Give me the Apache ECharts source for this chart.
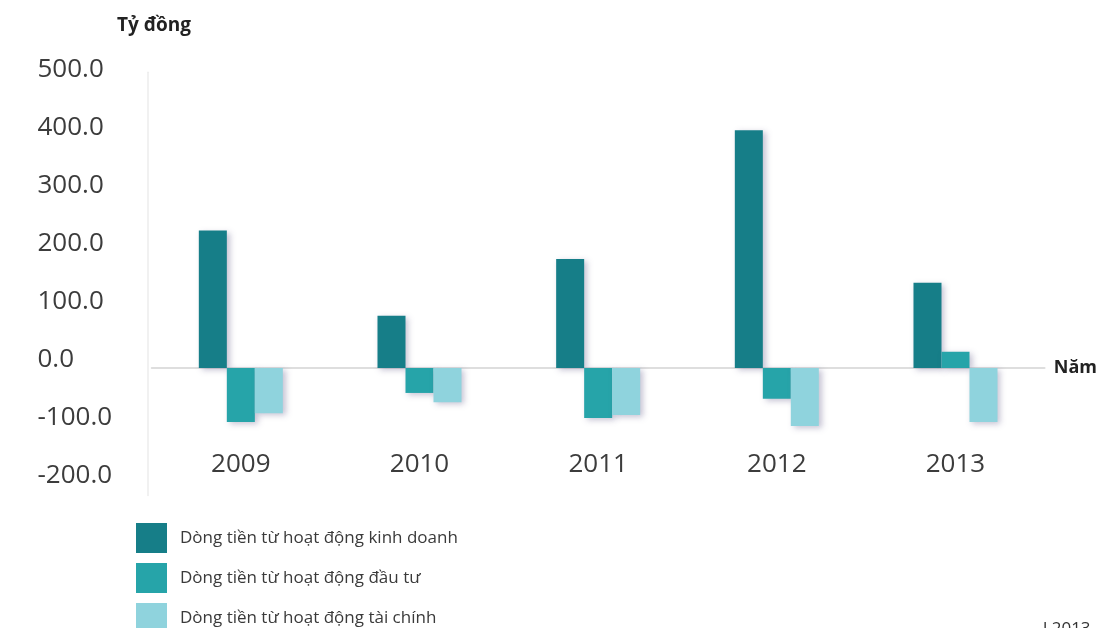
<!DOCTYPE html>
<html>
<head>
<meta charset="utf-8">
<script src="https://cdn.jsdelivr.net/npm/echarts@6/dist/echarts.min.js"></script>
<style>
  html, body { margin: 0; padding: 0; background: #ffffff; }
  #chart { width: 1100px; height: 628px; }
</style>
</head>
<body>
<div id="chart"></div>
<script>
// Cash flows by activity, billion VND
const years = ['2009', '2010', '2011', '2012', '2013'];
const operating = [237, 90, 188, 410, 147];
const investing = [-93, -43, -86, -53, 28];
const financing = [-78, -59, -81, -100, -93];
const seriesNames = [
  'Dòng tiền từ hoạt động kinh doanh',
  'Dòng tiền từ hoạt động đầu tư',
  'Dòng tiền từ hoạt động tài chính'
];
const seriesColors = ['#167e88', '#26a4a9', '#8fd3dd'];

const chart = echarts.init(document.getElementById('chart'), null, { renderer: 'canvas' });

const font = '"Open Sans", "Noto Sans", sans-serif';
const barShadow = {
  shadowColor: 'rgba(90, 80, 130, 0.35)',
  shadowBlur: 6,
  shadowOffsetX: 3,
  shadowOffsetY: 2
};

function barSeries(name, data, color) {
  return {
    name: name,
    type: 'bar',
    data: data,
    barWidth: 28,
    barGap: '0%',
    itemStyle: Object.assign({ color: color }, barShadow),
    emphasis: { disabled: true }
  };
}

// one legend block per series, stacked down the lower-left corner
const legendTops = [523, 563, 603];
const legends = seriesNames.map(function (name, i) {
  return {
    orient: 'vertical',
    left: 136,
    top: legendTops[i],
    padding: 0,
    itemWidth: 31,
    itemHeight: 30,
    icon: 'rect',
    selectedMode: false,
    data: [name],
    textStyle: {
      fontFamily: font,
      fontSize: 17,
      color: '#3a3a3a',
      padding: [4, 0, 0, 8]
    }
  };
});

chart.setOption({
  animation: false,
  backgroundColor: '#ffffff',
  grid: { left: 151.5, right: 53.5, top: 72.2, bottom: 132.4, containLabel: false },
  legend: legends,
  xAxis: {
    type: 'category',
    data: years,
    name: 'Năm',
    nameLocation: 'end',
    nameGap: 9,
    nameTextStyle: { fontFamily: font, fontSize: 18, fontWeight: 'bold', color: '#222' },
    axisLine: { onZero: true, lineStyle: { color: '#d4d4d4', width: 1.5 } },
    axisTick: { show: false },
    axisLabel: {
      margin: -44,
      fontFamily: font,
      fontSize: 26,
      color: '#3c3c3c'
    }
  },
  yAxis: {
    type: 'value',
    min: -220,
    max: 510,
    interval: 10,
    offset: 4,
    axisLine: { show: true, lineStyle: { color: '#ececec', width: 1.5 } },
    axisTick: { show: false },
    splitLine: { show: false },
    axisLabel: {
      align: 'left',
      verticalAlign: 'bottom',
      lineHeight: 16,
      margin: 110,
      fontFamily: font,
      fontSize: 26,
      color: '#3c3c3c',
      formatter: function (v) {
        return v % 100 === 0 ? v.toFixed(1) : '';
      }
    }
  },
  graphic: [
    {
      type: 'text',
      left: 117,
      top: 16,
      style: {
        text: 'Tỷ đồng',
        font: 'bold 19px ' + font,
        fill: '#222'
      }
    },
    {
      type: 'text',
      left: 1043,
      top: 621,
      style: {
        text: 'l 2013',
        font: '17px ' + font,
        fill: '#333'
      }
    }
  ],
  series: [
    barSeries(seriesNames[0], operating, seriesColors[0]),
    barSeries(seriesNames[1], investing, seriesColors[1]),
    barSeries(seriesNames[2], financing, seriesColors[2])
  ]
});
</script>
</body>
</html>
